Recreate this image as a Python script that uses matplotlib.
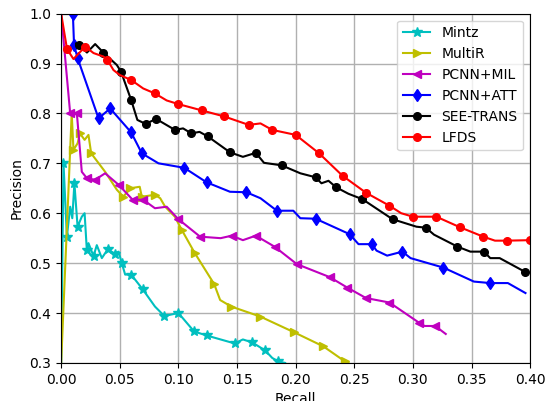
import matplotlib
matplotlib.use("Agg")
import matplotlib.pyplot as plt

labels = ["Mintz", "MultiR", "PCNN+MIL", "PCNN+ATT", "SEE-TRANS", "LFDS"]

mintz_r = [0, 0.002, 0.0049, 0.0077, 0.0095, 0.0113, 0.014, 0.0176, 0.020, 0.0219, 0.0233, 0.0276, 0.0304, 0.0347,
           0.0398, 0.0455, 0.049, 0.0517, 0.0546, 0.0597, 0.0694, 0.080, 0.088, 0.100, 0.1134, 0.124, 0.148, 0.155,
           0.163, 0.174, 0.180, 0.185, 0.191]
mintz_p = [0.3, 0.70, 0.553, 0.613, 0.59, 0.66, 0.573, 0.593, 0.60, 0.526, 0.54, 0.514, 0.536, 0.510,
           0.528, 0.519, 0.523, 0.500, 0.477, 0.477, 0.448, 0.413, 0.394, 0.400, 0.363, 0.355, 0.339, 0.347,
           0.341, 0.325, 0.310, 0.303, 0.300]
mintz_mark = [1, 2, 5, 6, 9, 11, 14, 15, 17, 19, 20, 22, 23, 24, 25, 26, 28, 29, 31]

multir_r = [0, 0.009, 0.0105, 0.014, 0.016, 0.020, 0.0233, 0.0256, 0.0375, 0.0475, 0.053, 0.0589, 0.067, 0.0688,
            0.080, 0.0845, 0.0887, 0.097, 0.103, 0.114, 0.1305, 0.1356, 0.145, 0.1697, 0.199, 0.2237, 0.242, 0.245]
multir_p = [0.3, 0.80, 0.727, 0.74, 0.76, 0.747, 0.757, 0.720, 0.683, 0.647, 0.633, 0.650, 0.653, 0.633,
            0.637, 0.630, 0.613, 0.593, 0.566, 0.520, 0.458, 0.426, 0.413, 0.393, 0.361, 0.333, 0.303, 0.300]
multir_mark = [2, 4, 7, 10, 11, 13, 14, 18, 19, 20, 22, 23, 24, 25, 26]

mil_r = [0, 0.0077, 0.0134, 0.0176, 0.022, 0.029, 0.0375, 0.049, 0.061, 0.070, 0.080, 0.090, 0.1, 0.1185, 0.136,
         0.1455, 0.155, 0.166, 0.182, 0.201, 0.229, 0.244, 0.260, 0.280, 0.3056, 0.31, 0.319, 0.328]
mil_p = [1.0, 0.80, 0.80, 0.683, 0.670, 0.667, 0.680, 0.657, 0.627, 0.627, 0.610, 0.613, 0.588, 0.553, 0.550,
         0.555, 0.546, 0.555, 0.533, 0.498, 0.472, 0.451, 0.430, 0.421, 0.380, 0.374, 0.374, 0.358]
mil_mark = [1, 2, 4, 5, 7, 8, 9, 12, 13, 15, 17, 18, 19, 20, 21, 22, 23, 24, 26]

att_r = [0.0, 0.010, 0.011, 0.014, 0.0319, 0.0418, 0.0597, 0.0688, 0.083, 0.105, 0.124, 0.144, 0.158, 0.17, 0.184,
         0.198, 0.204, 0.217, 0.246, 0.2536, 0.265, 0.269, 0.278, 0.291, 0.298, 0.326, 0.352, 0.366, 0.381, 0.396]
att_p = [1.0, 1.0, 0.937, 0.911, 0.790, 0.810, 0.762, 0.720, 0.700, 0.691, 0.662, 0.643, 0.642, 0.630, 0.605,
         0.605, 0.590, 0.589, 0.558, 0.538, 0.538, 0.525, 0.515, 0.523, 0.510, 0.491, 0.463, 0.460, 0.460, 0.440]
att_mark = [1, 2, 3, 4, 5, 6, 7, 9, 10, 12, 14, 17, 18, 20, 23, 25, 27]

see_r = [0.0128, 0.0156, 0.022, 0.029, 0.036, 0.0475, 0.051, 0.0597, 0.065, 0.072, 0.081, 0.097, 0.104, 0.111,
         0.118, 0.125, 0.144, 0.155, 0.166, 0.173, 0.188, 0.204, 0.217, 0.222, 0.228, 0.2345, 0.245, 0.257,
         0.2826, 0.303, 0.311, 0.318, 0.338, 0.349, 0.3605, 0.366, 0.374, 0.396]
see_p = [0.94, 0.937, 0.922, 0.939, 0.922, 0.897, 0.884, 0.827, 0.787, 0.779, 0.789, 0.767, 0.770, 0.760,
         0.763, 0.754, 0.722, 0.713, 0.721, 0.701, 0.696, 0.680, 0.672, 0.660, 0.665, 0.652, 0.639, 0.628,
         0.588, 0.573, 0.571, 0.557, 0.533, 0.523, 0.523, 0.510, 0.510, 0.482]
see_mark = [1, 4, 6, 7, 9, 10, 11, 13, 15, 16, 18, 20, 22, 25, 27, 28, 30, 32, 34, 37]

lfds_r = [0, 0.005, 0.0105, 0.0205, 0.0276, 0.036, 0.0395, 0.0446, 0.050, 0.0597, 0.070, 0.080, 0.090, 0.0995,
          0.12, 0.139, 0.16, 0.170, 0.18, 0.20, 0.22, 0.24, 0.26, 0.28, 0.29, 0.30, 0.32, 0.34, 0.36, 0.37,
          0.38, 0.40]
lfds_p = [1.0, 0.929, 0.909, 0.934, 0.921, 0.914, 0.907, 0.887, 0.877, 0.867, 0.85, 0.840, 0.826, 0.819,
          0.806, 0.794, 0.777, 0.780, 0.767, 0.757, 0.720, 0.675, 0.641, 0.615, 0.600, 0.593, 0.593, 0.572,
          0.553, 0.545, 0.545, 0.546]
lfds_mark = [1, 3, 6, 9, 11, 13, 14, 15, 16, 18, 19, 20, 21, 22, 23, 25, 26, 27, 28, 30, 31]

series = [
    (mintz_r, mintz_p, mintz_mark, "c", "*", 7),
    (multir_r, multir_p, multir_mark, "y", ">", 6),
    (mil_r, mil_p, mil_mark, "m", "<", 6),
    (att_r, att_p, att_mark, "b", "d", 6),
    (see_r, see_p, see_mark, "k", ".", 11),
    (lfds_r, lfds_p, lfds_mark, "r", "o", 5.5),
]

fig = plt.figure(figsize=(5.46, 4.01), dpi=100)
ax = fig.add_axes([0.112, 0.095, 0.859, 0.871])
for (r, p, mk, c, m, ms), lab in zip(series, labels):
    ax.plot(r, p, color=c, marker=m, markersize=ms, markevery=mk, linewidth=1.5, label=lab)

ax.set_xlim(0, 0.4)
ax.set_ylim(0.3, 1.0)
ax.set_xticks([0.0, 0.05, 0.10, 0.15, 0.20, 0.25, 0.30, 0.35, 0.40])
ax.set_yticks([0.3, 0.4, 0.5, 0.6, 0.7, 0.8, 0.9, 1.0])
ax.grid(True, color="#b0b0b0", linewidth=1.0)
ax.set_axisbelow(True)
ax.set_xlabel("Recall", fontsize=10)
ax.set_ylabel("Precision", fontsize=10)
ax.tick_params(labelsize=10)
ax.legend(loc="upper right", fontsize=10)
fig.savefig("out.png", dpi=100)
